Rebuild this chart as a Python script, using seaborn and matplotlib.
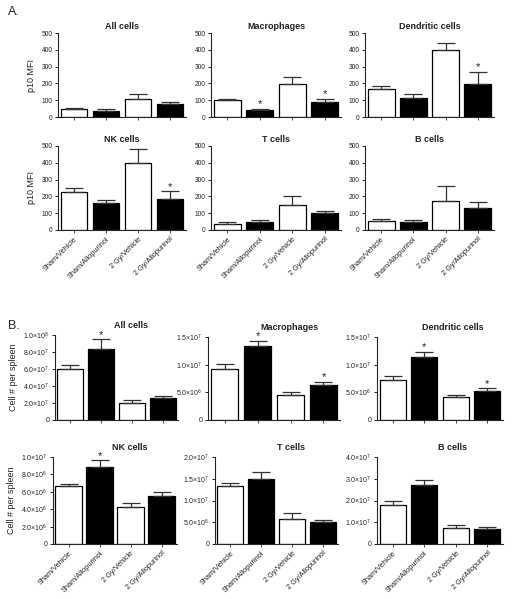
import numpy as np
import pandas as pd
import seaborn as sns
import matplotlib.pyplot as plt

# groups on the x axis
groups = ["Sham/Vehicle", "Sham/Allopurinol", "2 Gy/Vehicle", "2 Gy/Allopurinol"]

# Panel A: p10 MFI (mean, sem)
a_all = [50, 35, 105, 80]
a_all_sem = [5, 10, 30, 12]
a_mac = [100, 42, 197, 88]
a_mac_sem = [5, 8, 41, 22]
a_dc = [168, 112, 400, 195]
a_dc_sem = [17, 26, 38, 75]
a_nk = [225, 158, 400, 185]
a_nk_sem = [25, 22, 85, 45]
a_t = [38, 47, 148, 100]
a_t_sem = [7, 10, 54, 12]
a_b = [52, 50, 175, 128]
a_b_sem = [13, 10, 87, 37]

# Panel B: cell number per spleen (mean, sem)
b_all = [6.0e7, 8.4e7, 2.0e7, 2.55e7]
b_all_sem = [0.5e7, 1.1e7, 0.35e7, 0.27e7]
b_mac = [9.3e6, 1.34e7, 4.6e6, 6.4e6]
b_mac_sem = [0.8e6, 0.9e6, 0.5e6, 0.5e6]
b_dc = [7.2e6, 1.13e7, 4.1e6, 5.2e6]
b_dc_sem = [0.7e6, 1.0e6, 0.4e6, 0.5e6]
b_nk = [6.67e6, 8.9e6, 4.27e6, 5.5e6]
b_nk_sem = [0.27e6, 0.7e6, 0.48e6, 0.46e6]
b_t = [1.34e7, 1.5e7, 5.7e6, 5.15e6]
b_t_sem = [0.6e6, 1.5e6, 1.4e6, 0.35e6]
b_b = [1.8e7, 2.7e7, 0.73e7, 0.67e7]
b_b_sem = [0.18e7, 0.22e7, 0.13e7, 0.11e7]

sns.set_style("ticks")
plt.rcParams['font.family'] = ['Liberation Sans', 'DejaVu Sans']
plt.rcParams['mathtext.fontset'] = 'custom'
plt.rcParams['mathtext.rm'] = 'Liberation Sans'

W, H = 515, 599
fig = plt.figure(figsize=(W / 100, H / 100), dpi=100)


def px_axes(l, r, t, b):
    return fig.add_axes([l / W, 1 - b / H, (r - l) / W, (b - t) / H])


def sci(v):
    if v == 0:
        return "0"
    e = int(np.floor(np.log10(v)))
    m = v / 10 ** e
    return r"$%.1f{\times}10^{%d}$" % (m, e)


def panel(ax, title, vals, sem, stars, ymax, yticks, sci_labels, xlabels,
          ylabel=None, title_x=0.5, title_pad=3):
    df = pd.DataFrame({"group": groups, "value": vals})
    sns.barplot(data=df, x="group", y="value", order=groups, ax=ax,
                palette=["white", "black", "white", "black"], hue="group", legend=False,
                edgecolor="black", linewidth=0.9, width=0.84, errorbar=None)
    ax.errorbar(range(4), vals, yerr=[np.zeros(4), sem], fmt="none",
                ecolor="#333333", elinewidth=0.9, capsize=6.5, capthick=0.9, zorder=1)
    for i in stars:
        ax.text(i, vals[i] + sem[i] - ymax * 0.005, "*", ha="center", va="bottom",
                fontsize=8, color="#222222")
    ax.set_xlim(-0.5, 3.5)
    ax.set_ylim(0, ymax)
    ax.set_yticks(yticks)
    if sci_labels:
        ax.set_yticklabels([sci(v) for v in yticks])
        ax.tick_params(axis="y", labelsize=5)
    else:
        ax.set_yticklabels([str(int(v)) for v in yticks])
        ax.tick_params(axis="y", labelsize=4.8)
    ax.set_xlabel("")
    ax.set_ylabel(ylabel if ylabel else "", fontsize=6.5, color="#222222")
    ax.set_xticks(range(4))
    if xlabels:
        ax.set_xticklabels(groups, rotation=45, ha="right", rotation_mode="anchor",
                           fontsize=5.3, color="#222222")
    else:
        ax.set_xticklabels([])
    ax.tick_params(axis="y", length=2.5, width=0.7, pad=1.5, colors="#222222")
    ax.tick_params(axis="x", length=2, width=0.6, pad=2)
    ax.set_title(title, fontsize=6.5, fontweight="bold", pad=title_pad,
                 color="#222222", x=title_x)
    sns.despine(ax=ax)
    for s in ["left", "bottom"]:
        ax.spines[s].set_linewidth(0.8)


mfi_ticks = [0, 100, 200, 300, 400, 500]

# Panel A
ax = px_axes(58, 186, 33, 117)
panel(ax, "All cells", a_all, a_all_sem, [], 500, mfi_ticks, False, False, "p10 MFI")
ax = px_axes(211, 341, 33, 117)
panel(ax, "Macrophages", a_mac, a_mac_sem, [1, 3], 500, mfi_ticks, False, False)
ax = px_axes(365, 494, 33, 117)
panel(ax, "Dendritic cells", a_dc, a_dc_sem, [3], 500, mfi_ticks, False, False)
ax = px_axes(58, 186, 146, 230)
panel(ax, "NK cells", a_nk, a_nk_sem, [3], 500, mfi_ticks, False, True, "p10 MFI")
ax = px_axes(211, 341, 146, 230)
panel(ax, "T cells", a_t, a_t_sem, [], 500, mfi_ticks, False, True)
ax = px_axes(365, 494, 146, 230)
panel(ax, "B cells", a_b, a_b_sem, [], 500, mfi_ticks, False, True)

# Panel B
ax = px_axes(55, 178, 335, 420)
panel(ax, "All cells", b_all, b_all_sem, [1], 1.0e8,
      [0, 2e7, 4e7, 6e7, 8e7, 1e8], True, False, "Cell # per spleen",
      title_x=0.62, title_pad=5)
ax = px_axes(208, 340, 337, 420)
panel(ax, "Macrophages", b_mac, b_mac_sem, [1, 3], 1.5e7,
      [0, 5e6, 1e7, 1.5e7], True, False, title_x=0.62, title_pad=5)
ax = px_axes(377, 503, 337, 420)
panel(ax, "Dendritic cells", b_dc, b_dc_sem, [1, 3], 1.5e7,
      [0, 5e6, 1e7, 1.5e7], True, False, title_x=0.6, title_pad=5)
ax = px_axes(53, 177, 457, 544)
panel(ax, "NK cells", b_nk, b_nk_sem, [1], 1.0e7,
      [0, 2e6, 4e6, 6e6, 8e6, 1e7], True, True, "Cell # per spleen",
      title_x=0.62, title_pad=5)
ax = px_axes(215, 338, 457, 544)
panel(ax, "T cells", b_t, b_t_sem, [], 2.0e7,
      [0, 5e6, 1e7, 1.5e7, 2e7], True, True, title_x=0.62, title_pad=5)
ax = px_axes(377, 503, 457, 544)
panel(ax, "B cells", b_b, b_b_sem, [], 4.0e7,
      [0, 1e7, 2e7, 3e7, 4e7], True, True, title_x=0.6, title_pad=5)

fig.text(8 / W, 1 - 12 / H, "A.", fontsize=9, va="center", ha="left")
fig.text(8 / W, 1 - 326 / H, "B.", fontsize=9, va="center", ha="left")

fig.savefig("out.png", dpi=100)
